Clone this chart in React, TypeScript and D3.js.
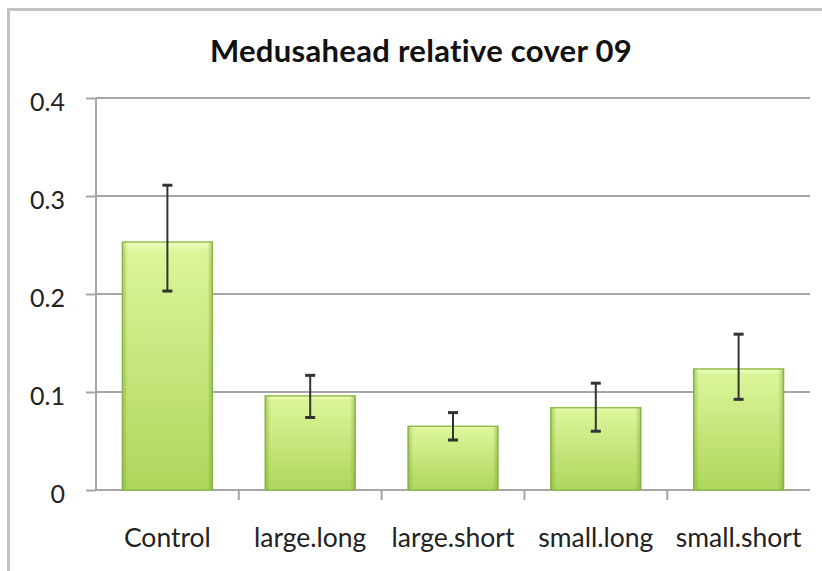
import React, { useRef, useEffect } from 'react';
import * as d3 from 'd3';

const categories = ['Control', 'large.long', 'large.short', 'small.long', 'small.short'];
const values = [0.253, 0.096, 0.065, 0.084, 0.1235];
const errLow = [0.203, 0.074, 0.051, 0.060, 0.0925];
const errHigh = [0.311, 0.117, 0.079, 0.109, 0.159];
const yTicks = [0, 0.1, 0.2, 0.3, 0.4];
const title = 'Medusahead relative cover 09';

const App = () => {
  const ref = useRef<SVGSVGElement | null>(null);

  useEffect(() => {
    const width = 822;
    const height = 571;
    const marginLeft = 96;
    const marginRight = 12;
    const marginTop = 98;
    const marginBottom = 81;
    const font = 'Lato, "Open Sans", sans-serif';

    const svg = d3.select(ref.current);
    svg.selectAll('*').remove();

    const x = d3.scaleBand(categories, [marginLeft, width - marginRight]).paddingInner(0.37).paddingOuter(0.185);
    const y = d3.scaleLinear([0, 0.4], [height - marginBottom, marginTop]);

    const defs = svg.append('defs');
    const vg = defs.append('linearGradient').attr('id', 'barV').attr('x1', 0).attr('y1', 0).attr('x2', 0).attr('y2', 1);
    vg.append('stop').attr('offset', '0%').attr('stop-color', '#f0ffc0');
    vg.append('stop').attr('offset', '4%').attr('stop-color', '#dcf59a');
    vg.append('stop').attr('offset', '100%').attr('stop-color', '#aed75c');
    const hg = defs.append('linearGradient').attr('id', 'barH').attr('x1', 0).attr('y1', 0).attr('x2', 1).attr('y2', 0);
    hg.append('stop').attr('offset', '0%').attr('stop-color', '#6f9a2a').attr('stop-opacity', 0.45);
    hg.append('stop').attr('offset', '6%').attr('stop-color', '#6f9a2a').attr('stop-opacity', 0);
    hg.append('stop').attr('offset', '94%').attr('stop-color', '#6f9a2a').attr('stop-opacity', 0);
    hg.append('stop').attr('offset', '100%').attr('stop-color', '#6f9a2a').attr('stop-opacity', 0.45);

    // chart frame
    svg.append('path')
      .attr('d', `M8.5,${height}V9.5H${width}`)
      .attr('fill', 'none')
      .attr('stroke', '#c4c4c4')
      .attr('stroke-width', 3);

    svg.append('text')
      .attr('x', 421)
      .attr('y', 62)
      .attr('text-anchor', 'middle')
      .attr('font-family', font)
      .attr('font-weight', 'bold')
      .attr('font-size', 31)
      .attr('letter-spacing', 0.3)
      .attr('fill', '#111')
      .text(title);

    // grid
    svg.append('g')
      .selectAll('line')
      .data(yTicks)
      .join('line')
      .attr('x1', marginLeft)
      .attr('x2', width - marginRight)
      .attr('y1', d => y(d))
      .attr('y2', d => y(d))
      .attr('stroke', '#a6a6a6')
      .attr('stroke-width', 2);

    // y axis
    const ya = svg.append('g')
      .attr('transform', `translate(${marginLeft},0)`)
      .call(d3.axisLeft(y).tickValues(yTicks).tickSize(10).tickPadding(10).tickFormat(d3.format('.1~f')));
    ya.select('.domain').attr('stroke', '#a6a6a6').attr('stroke-width', 2).attr('d', `M0,${y(0.4)}V${y(0)}`);
    ya.selectAll('.tick line').attr('stroke', '#a6a6a6').attr('stroke-width', 2);
    ya.selectAll('.tick text')
      .attr('font-family', font)
      .attr('font-size', 25)
      .attr('fill', '#222')
      .attr('x', -31)
      .attr('dy', '0.5em');

    // x axis ticks
    const bandEdges = d3.range(1, categories.length).map(i => marginLeft + i * x.step());
    svg.append('g')
      .selectAll('line')
      .data(bandEdges)
      .join('line')
      .attr('x1', d => d)
      .attr('x2', d => d)
      .attr('y1', y(0))
      .attr('y2', y(0) + 10)
      .attr('stroke', '#a6a6a6')
      .attr('stroke-width', 2);

    svg.append('g')
      .selectAll('text')
      .data(categories)
      .join('text')
      .attr('x', d => (x(d) as number) + x.bandwidth() / 2)
      .attr('y', 547)
      .attr('text-anchor', 'middle')
      .attr('font-family', font)
      .attr('font-size', 26.5)
      .attr('fill', '#222')
      .text(d => d);

    // bars
    const bars = svg.append('g');
    bars.selectAll('rect.fill')
      .data(categories)
      .join('rect')
      .attr('class', 'fill')
      .attr('x', d => x(d) as number)
      .attr('y', (d, i) => y(values[i]))
      .attr('width', x.bandwidth())
      .attr('height', (d, i) => y(0) - y(values[i]))
      .attr('fill', 'url(#barV)')
      .attr('stroke', '#94bd4c')
      .attr('stroke-width', 1.5);
    bars.selectAll('rect.shade')
      .data(categories)
      .join('rect')
      .attr('class', 'shade')
      .attr('x', d => x(d) as number)
      .attr('y', (d, i) => y(values[i]))
      .attr('width', x.bandwidth())
      .attr('height', (d, i) => y(0) - y(values[i]))
      .attr('fill', 'url(#barH)');

    // error bars
    const eg = svg.append('g').attr('stroke', '#333').attr('stroke-width', 2);
    categories.forEach((c, i) => {
      const cx = (x(c) as number) + x.bandwidth() / 2;
      eg.append('line').attr('x1', cx).attr('x2', cx).attr('y1', y(errHigh[i])).attr('y2', y(errLow[i]));
      eg.append('line').attr('x1', cx - 5).attr('x2', cx + 5).attr('y1', y(errHigh[i])).attr('y2', y(errHigh[i])).attr('stroke-width', 3);
      eg.append('line').attr('x1', cx - 5).attr('x2', cx + 5).attr('y1', y(errLow[i])).attr('y2', y(errLow[i])).attr('stroke-width', 3);
    });
  }, []);

  return <svg ref={ref} width={822} height={571} style={{ display: 'block', position: 'absolute', left: 0, top: 0, background: '#fff' }} />;
};

export default App;
